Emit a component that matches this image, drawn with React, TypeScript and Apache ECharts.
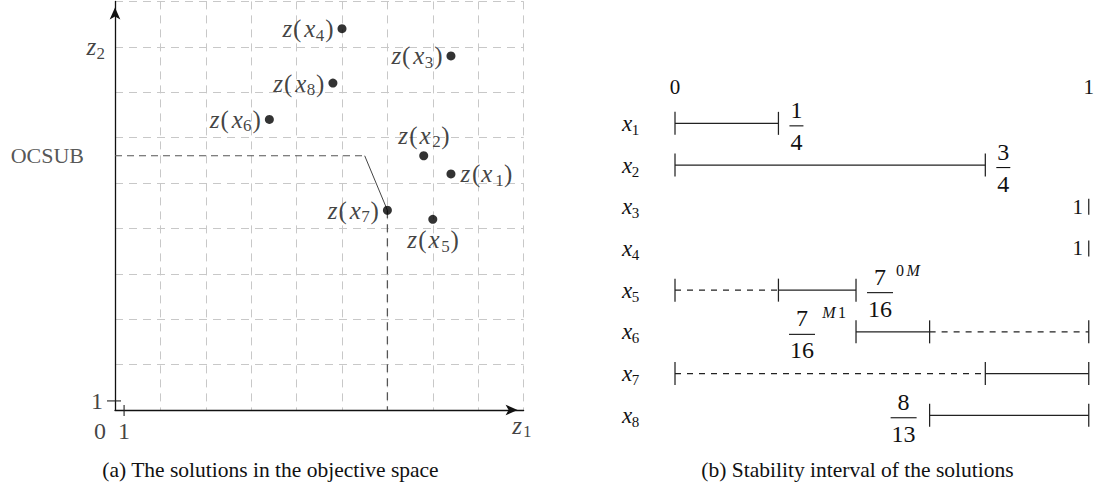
import React, { useEffect, useRef } from 'react';
import * as echarts from 'echarts';

const SERIF = 'Liberation Serif, Times New Roman, serif';
const INK = '#111111';

// (a) Objective values (z1, z2) of the eight solutions
const solutionIds = [1, 2, 3, 4, 5, 6, 7, 8];
const z1Values = [37, 34, 37, 25, 35, 17, 30, 24];
const z2Values = [26, 28, 39, 42, 21, 32, 22, 36];
const ocsubValue = 28;
const ocsubLeaderEnd = 27.5;
const boundSolution = 7; // z(x7) realises the OCSUB bound
const objectiveMax = 45;
const objectiveStep = 5;
const unitTick = 1;
const z2NameLevel = 40;

// (b) Stability intervals on [0, 1]
const intervalRows = ['x1', 'x2', 'x3', 'x4', 'x5', 'x6', 'x7', 'x8'];
const intervalAxisTicks = [0, 1];
// [row, start, end]
const solidSegments = [
  [0, 0, 1 / 4],
  [1, 0, 3 / 4],
  [4, 1 / 4, 7 / 16],
  [5, 7 / 16, 8 / 13],
  [6, 3 / 4, 1],
  [7, 8 / 13, 1],
];
const dashedSegments = [
  [4, 0, 1 / 4],
  [5, 8 / 13, 1],
  [6, 0, 3 / 4],
];
// [row, value] : degenerate intervals
const pointIntervals = [
  [2, 1],
  [3, 1],
];
const fractionLabels = [
  { row: 0, value: 1 / 4, num: '1', den: '4', sup: '' },
  { row: 1, value: 3 / 4, num: '3', den: '4', sup: '' },
  { row: 4, value: 7 / 16, num: '7', den: '16', sup: '0M' },
  { row: 5, value: 7 / 16, num: '7', den: '16', sup: 'M1' },
  { row: 7, value: 8 / 13, num: '8', den: '13', sup: '' },
];

// ---- layout ----
const labelSides = ['right', 'top', 'left', 'left', 'bottom', 'left', 'left', 'left'];
const fractionOnLeft = [false, false, false, true, true];

const fontOf = (size: number, italic = false) => `${italic ? 'italic ' : ''}${size}px ${SERIF}`;

const mathRich = (size: number, subSize: number, zW: number, xW: number) => ({
  zi: { font: fontOf(size, true), fontFamily: SERIF, fontStyle: 'italic', fontSize: size, lineHeight: size + 5, width: zW, color: INK },
  xi: { font: fontOf(size, true), fontFamily: SERIF, fontStyle: 'italic', fontSize: size, lineHeight: size + 5, width: xW, color: INK },
  p: { font: fontOf(size), fontFamily: SERIF, fontSize: size, lineHeight: size + 5, width: size * 0.37, color: INK },
  s: { font: fontOf(subSize), fontFamily: SERIF, fontSize: subSize, lineHeight: subSize, verticalAlign: 'bottom', width: subSize * 0.52, color: INK },
});

const supRich = (text: string) =>
  text
    .split('')
    .map((c) => (/[0-9]/.test(c) ? `{r|${c}}` : `{i|${c}}`))
    .join('');

export default function App() {
  const ref = useRef<HTMLDivElement>(null);

  useEffect(() => {
    if (!ref.current) return;
    const chart = echarts.init(ref.current, undefined, { renderer: 'svg' });

    const zLabelRich = mathRich(25, 17, 11.5, 14);

    const points = solutionIds.map((id, i) => ({
      value: [z1Values[i], z2Values[i]],
      label: {
        position: labelSides[i],
        distance: labelSides[i] === 'left' ? 4 : labelSides[i] === 'right' ? 5 : 1,
        formatter: `{zi|z}{p|(}{xi|x}{s|${id}}{p|)}`,
      },
    }));

    const bx = z1Values[boundSolution - 1];
    const by = z2Values[boundSolution - 1];

    const tickData: number[][] = [];
    const seen = new Set<string>();
    [...solidSegments, ...dashedSegments].forEach(([r, s, e]) => {
      [s, e].forEach((v) => {
        const k = r + ':' + v.toFixed(6);
        if (!seen.has(k)) {
          seen.add(k);
          tickData.push([r, v, 0]);
        }
      });
    });
    pointIntervals.forEach(([r, v]) => tickData.push([r, v, 1]));

    const segmentSeries = (data: number[][], dashed: boolean) => ({
      type: 'custom',
      xAxisIndex: 1,
      yAxisIndex: 1,
      silent: true,
      encode: { x: [1, 2], y: 0 },
      data,
      renderItem: (_p: any, api: any) => {
        const a = api.coord([api.value(1), api.value(0)]);
        const b = api.coord([api.value(2), api.value(0)]);
        return {
          type: 'line',
          shape: { x1: a[0], y1: a[1], x2: b[0], y2: b[1] },
          style: { stroke: '#222', lineWidth: 1.25, lineDash: dashed ? [6, 6] : null },
        };
      },
    });

    const plainText = (text: string, x: number, y: number, size: number, align = 'center') => ({
      type: 'text',
      style: {
        text, x, y, align, verticalAlign: 'middle',
        font: fontOf(size), fontFamily: SERIF, fontSize: size, fill: INK,
      },
    });

    const option: any = {
      animation: false,
      backgroundColor: '#ffffff',
      textStyle: { fontFamily: SERIF, color: INK },
      grid: [
        { left: 115, top: 1.4, width: 408.6, height: 408.6 },
        { left: 675, top: 102.5, width: 415, height: 333.6 },
      ],
      xAxis: [
        {
          type: 'value',
          gridIndex: 0,
          min: 0,
          max: objectiveMax,
          interval: objectiveStep,
          axisLine: {
            show: true,
            symbol: ['none', 'arrow'],
            symbolSize: [8, 12],
            symbolOffset: [0, -6],
            lineStyle: { color: INK, width: 1.3 },
          },
          axisTick: { show: false },
          axisLabel: { show: false },
          splitLine: { show: true, lineStyle: { color: '#c8c8c8', width: 1, type: [8, 6] } },
        },
        {
          type: 'value',
          gridIndex: 1,
          min: intervalAxisTicks[0],
          max: intervalAxisTicks[1],
          interval: 1,
          position: 'top',
          axisLine: { show: false },
          axisTick: { show: false },
          splitLine: { show: false },
          axisLabel: { fontFamily: SERIF, fontSize: 21, color: INK, margin: 5 },
        },
      ],
      yAxis: [
        {
          type: 'value',
          gridIndex: 0,
          min: 0,
          max: objectiveMax,
          interval: objectiveStep,
          axisLine: {
            show: true,
            symbol: ['none', 'arrow'],
            symbolSize: [8, 12],
            symbolOffset: [0, -6],
            lineStyle: { color: INK, width: 1.3 },
          },
          axisTick: { show: false },
          axisLabel: { show: false },
          splitLine: { show: true, lineStyle: { color: '#c8c8c8', width: 1, type: [8, 6] } },
        },
        {
          type: 'category',
          gridIndex: 1,
          inverse: true,
          data: intervalRows,
          axisLine: { show: false },
          axisTick: { show: false },
          splitLine: { show: false },
          axisLabel: {
            margin: 44,
            align: 'center',
            formatter: (v: string) => `{xi|x}{s|${v.slice(1)}}`,
            rich: mathRich(23, 15, 13, 9),
          },
        },
      ],
      series: [
        // OCSUB level and leader to the bounding solution
        {
          type: 'line',
          xAxisIndex: 0,
          yAxisIndex: 0,
          silent: true,
          symbol: 'none',
          data: [
            [0, ocsubValue],
            [ocsubLeaderEnd, ocsubValue],
          ],
          lineStyle: { color: '#555', width: 1.1, type: [7, 5] },
        },
        {
          type: 'line',
          xAxisIndex: 0,
          yAxisIndex: 0,
          silent: true,
          symbol: 'none',
          data: [
            [ocsubLeaderEnd, ocsubValue],
            [bx, by],
          ],
          lineStyle: { color: '#444', width: 1 },
        },
        {
          type: 'line',
          xAxisIndex: 0,
          yAxisIndex: 0,
          silent: true,
          symbol: 'none',
          data: [
            [bx, by],
            [bx, 0],
          ],
          lineStyle: { color: '#555', width: 1.3, type: [8, 6] },
        },
        // unit ticks on both axes
        {
          type: 'custom',
          xAxisIndex: 0,
          yAxisIndex: 0,
          silent: true,
          data: [
            [unitTick, 0, 0],
            [0, unitTick, 1],
          ],
          renderItem: (_p: any, api: any) => {
            const c = api.coord([api.value(0), api.value(1)]);
            const vertical = api.value(2) === 0;
            return {
              type: 'line',
              shape: vertical
                ? { x1: c[0], y1: c[1] - 5, x2: c[0], y2: c[1] + 6 }
                : { x1: c[0] - 8, y1: c[1], x2: c[0] + 6, y2: c[1] },
              style: { stroke: '#222', lineWidth: 1.1 },
            };
          },
        },
        // axis annotations
        {
          type: 'scatter',
          xAxisIndex: 0,
          yAxisIndex: 0,
          silent: true,
          symbolSize: 0,
          clip: false,
          label: {
            show: true,
            fontFamily: SERIF,
            fontSize: 24,
            color: INK,
            rich: zLabelRich,
          },
          data: [
            { value: [unitTick, 0], label: { formatter: '1', position: 'bottom', distance: 9 } },
            { value: [0, 0], label: { formatter: '0', position: 'bottom', distance: 9, offset: [-15, 0] } },
            { value: [0, unitTick], label: { formatter: '1', position: 'left', distance: 12 } },
            {
              value: [objectiveMax, 0],
              label: { formatter: '{zi|z}{s|1}', position: 'bottom', distance: 0, offset: [-2, 0] },
            },
            { value: [0, z2NameLevel], label: { formatter: '{zi|z}{s|2}', position: 'left', distance: 10 } },
            {
              value: [0, ocsubValue],
              label: { formatter: 'OCSUB', position: 'left', distance: 31, fontSize: 22, color: '#2a2a2a' },
            },
          ],
        },
        // solutions
        {
          type: 'scatter',
          xAxisIndex: 0,
          yAxisIndex: 0,
          silent: true,
          symbol: 'circle',
          symbolSize: 9,
          itemStyle: { color: '#000' },
          label: { show: true, rich: zLabelRich },
          data: points,
          z: 5,
        },
        // stability intervals
        segmentSeries(dashedSegments, true),
        segmentSeries(solidSegments, false),
        {
          type: 'custom',
          xAxisIndex: 1,
          yAxisIndex: 1,
          silent: true,
          encode: { x: 1, y: 0 },
          data: tickData,
          renderItem: (_p: any, api: any) => {
            const v = api.value(1);
            const c = api.coord([v, api.value(0)]);
            const point = api.value(2) === 1;
            const h = point ? 8 : 11.5;
            const children: any[] = [
              {
                type: 'line',
                shape: { x1: c[0], y1: c[1] - h, x2: c[0], y2: c[1] + h },
                style: { stroke: '#222', lineWidth: 1.25 },
              },
            ];
            if (point) children.push(plainText(String(v), c[0] - 11, c[1], 21));
            return { type: 'group', children };
          },
        },
        {
          type: 'custom',
          xAxisIndex: 1,
          yAxisIndex: 1,
          silent: true,
          encode: { x: 1, y: 0 },
          data: fractionLabels.map((f, i) => [f.row, f.value, i]),
          renderItem: (_p: any, api: any) => {
            const i = api.value(2);
            const f = fractionLabels[i];
            const c = api.coord([api.value(1), api.value(0)]);
            const digits = Math.max(f.num.length, f.den.length);
            const w = digits * 12 + 2;
            const supW = 26;
            let left: number;
            if (fractionOnLeft[i]) {
              left = c[0] - (f.sup ? 10 + supW + 5 : 13) - w;
            } else {
              left = c[0] + 11;
            }
            const cx = left + w / 2;
            const children: any[] = [
              plainText(f.num, cx, c[1] - 13.5, 24),
              {
                type: 'line',
                shape: { x1: left, y1: c[1] + 2.5, x2: left + w, y2: c[1] + 2.5 },
                style: { stroke: INK, lineWidth: 1.1 },
              },
              plainText(f.den, cx, c[1] + 18.5, 24),
            ];
            if (f.sup) {
              children.push({
                type: 'text',
                style: {
                  text: supRich(f.sup),
                  x: fractionOnLeft[i] ? c[0] - 10 : left + w + 3,
                  y: c[1] - 19.5,
                  align: fractionOnLeft[i] ? 'right' : 'left',
                  verticalAlign: 'middle',
                  font: fontOf(16),
                  fill: INK,
                  rich: {
                    r: { font: fontOf(16), fontFamily: SERIF, fontSize: 16, width: 10.5, fill: INK },
                    i: { font: fontOf(16, true), fontFamily: SERIF, fontStyle: 'italic', fontSize: 16, width: 16, fill: INK },
                  },
                },
              });
            }
            return { type: 'group', children };
          },
        },
      ],
      graphic: [
        {
          type: 'text',
          x: 270.5,
          y: 470,
          silent: true,
          style: {
            text: '(a) The solutions in the objective space',
            align: 'center',
            verticalAlign: 'middle',
            font: fontOf(21.5),
            fill: INK,
          },
        },
        {
          type: 'text',
          x: 857.5,
          y: 470,
          silent: true,
          style: {
            text: '(b) Stability interval of the solutions',
            align: 'center',
            verticalAlign: 'middle',
            font: fontOf(21.5),
            fill: INK,
          },
        },
      ],
    };

    chart.setOption(option);
    return () => chart.dispose();
  }, []);

  return (
    <div
      ref={ref}
      style={{ position: 'absolute', left: 0, top: 0, width: 1097, height: 491, background: '#fff' }}
    />
  );
}
